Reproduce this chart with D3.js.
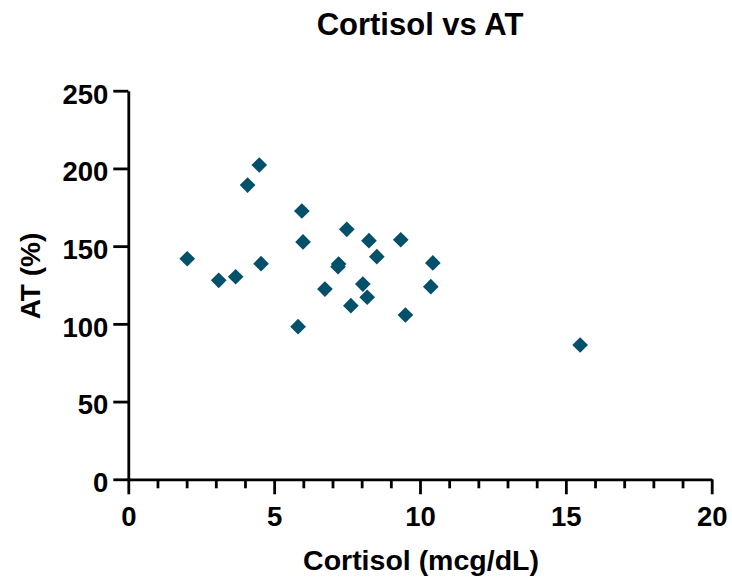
<!DOCTYPE html>
<html>
<head>
<meta charset="utf-8">
<script src="https://cdn.jsdelivr.net/npm/d3@7"></script>
<style>
  html, body { margin: 0; padding: 0; background: #fff; }
  svg text { font-family: "Liberation Sans", Arial, Helvetica, sans-serif; font-weight: bold; fill: #000; }
</style>
</head>
<body>
<svg id="chart" width="732" height="580"></svg>
<script>
const title = "Cortisol vs AT";
const xTitle = "Cortisol (mcg/dL)";
const yTitle = "AT (%)";
const cortisol = [4.49, 4.09, 5.95, 5.99, 7.49, 8.25, 9.34, 8.52, 2.02, 4.55, 3.10, 3.68, 7.21, 7.19, 10.44, 10.37, 6.74, 8.04, 8.19, 7.63, 9.50, 5.82, 15.49];
const at = [202.2, 189.3, 172.6, 152.7, 160.8, 153.5, 154.1, 143.2, 141.9, 138.7, 128.0, 130.3, 138.5, 136.8, 139.2, 123.9, 122.4, 125.6, 117.1, 111.7, 105.7, 98.2, 86.4];
const xMajorTicks = [0, 5, 10, 15, 20];
const xMinorTicks = [1, 2, 3, 4, 6, 7, 8, 9, 11, 12, 13, 14, 16, 17, 18, 19];
const yTicks = [0, 50, 100, 150, 200, 250];

const svg = d3.select("#chart");
const mLeft = 128.3, mRight = 711.7, mTop = 90.7, mBottom = 479.3;
const x = d3.scaleLinear().domain([0, 20]).range([mLeft, mRight]);
const y = d3.scaleLinear().domain([0, 250]).range([mBottom, mTop]);
const axisColor = "#000", lw = 2.8;
const fontFam = "'Liberation Sans', Arial, sans-serif";

// x axis minor ticks
const gxm = svg.append("g").attr("transform", `translate(0,${mBottom})`)
  .call(d3.axisBottom(x).tickValues(xMinorTicks).tickSize(9).tickFormat(""));
gxm.select(".domain").remove();
gxm.selectAll("line").attr("stroke", axisColor).attr("stroke-width", lw);

// x axis major
const gx = svg.append("g").attr("transform", `translate(0,${mBottom})`)
  .call(d3.axisBottom(x).tickValues(xMajorTicks).tickSize(15).tickSizeOuter(0).tickPadding(12));
gx.select(".domain").attr("stroke", axisColor).attr("stroke-width", lw);
gx.selectAll("line").attr("stroke", axisColor).attr("stroke-width", lw);
gx.selectAll("text").attr("font-size", 27.5).attr("dy", "0.71em")
  .style("font-family", fontFam).style("font-weight", "bold").attr("fill", "#000");

// y axis
const gy = svg.append("g").attr("transform", `translate(${mLeft},0)`)
  .call(d3.axisLeft(y).tickValues(yTicks).tickSize(15).tickSizeOuter(0).tickPadding(5));
gy.select(".domain").attr("stroke", axisColor).attr("stroke-width", lw);
gy.selectAll("line").attr("stroke", axisColor).attr("stroke-width", lw);
gy.selectAll("text").attr("font-size", 27.5).attr("dy", "0.45em")
  .style("font-family", fontFam).style("font-weight", "bold").attr("fill", "#000");

// points
const data = cortisol.map((c, i) => ({ c, a: at[i] }));
const sym = d3.symbol().type(d3.symbolSquare).size(123);
svg.append("g").selectAll("path").data(data).join("path")
  .attr("d", sym)
  .attr("transform", d => `translate(${x(d.c)},${y(d.a)}) rotate(45)`)
  .attr("fill", "#03506A");

// titles
svg.append("text").attr("x", (mLeft + mRight) / 2).attr("y", 35)
  .attr("text-anchor", "middle").attr("font-size", 31).text(title);
svg.append("text").attr("x", 421).attr("y", 570)
  .attr("text-anchor", "middle").attr("font-size", 28.5).text(xTitle);
svg.append("text").attr("transform", "translate(40,276) rotate(-90)")
  .attr("text-anchor", "middle").attr("font-size", 28).text(yTitle);
</script>
</body>
</html>
